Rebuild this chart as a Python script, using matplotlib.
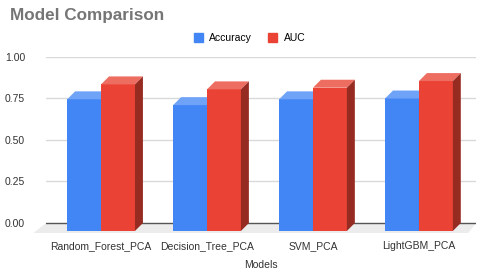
import matplotlib.pyplot as plt
from matplotlib.patches import Patch

plt.rcParams['font.family'] = ['Liberation Sans', 'DejaVu Sans']

models = ['Random_Forest_PCA', 'Decision_Tree_PCA', 'SVM_PCA', 'LightGBM_PCA']
accuracy = [0.745, 0.71, 0.745, 0.75]
auc = [0.835, 0.805, 0.815, 0.855]
yticks = [0.0, 0.25, 0.5, 0.75, 1.0]

# colours (front, top, side)
blue = ('#4285F4', '#6FA3F7', '#2F5FB3')
red = ('#EA4335', '#EE6D61', '#962B22')

w = 0.32      # bar width
dx = 0.075    # depth offset in x
dy = 0.048    # depth offset in y
floor = -0.048

fig = plt.figure(figsize=(4.8, 2.78), dpi=100)
ax = fig.add_axes([0.096, 0.162, 0.896, 0.633])
ax.set_xlim(-0.519, 3.54)
ax.set_ylim(-0.06, 1.0)

# back wall grid + floor
for t in yticks[1:]:
    ax.axhline(t, color='#d9d9d9', lw=1, zorder=0)
x0, x1 = ax.get_xlim()
ax.fill([x0, x1, x1 - dx, x0 - dx * 1.6], [0, 0, -0.06, -0.06],
        color='#ececec', lw=0, zorder=0, clip_on=False)
ax.axhline(0, color='#555555', lw=1, zorder=1)


def bar3d(xc, v, cols):
    l, r = xc - w / 2, xc + w / 2
    ax.fill([l, r, r, l], [floor, floor, v, v], color=cols[0], lw=0, zorder=2)
    ax.fill([l, r, r + dx, l + dx], [v, v, v + dy, v + dy], color=cols[1], lw=0, zorder=2)
    ax.fill([r, r + dx, r + dx, r], [floor, floor + dy, v + dy, v], color=cols[2], lw=0, zorder=2)


for i in range(len(models)):
    bar3d(i - w / 2, accuracy[i], blue)
    bar3d(i + w / 2, auc[i], red)

ax.set_yticks(yticks)
ax.set_yticklabels(['%.2f' % t for t in yticks])
ax.set_xticks(range(len(models)))
ax.set_xticklabels(models)
ax.tick_params(length=0, labelsize=7.5, colors='#333333')
ax.tick_params(axis='y', pad=15)
ax.tick_params(axis='x', pad=6)
for s in ax.spines.values():
    s.set_visible(False)
ax.set_xlabel('Models', fontsize=7.5, color='#333333', labelpad=6)

fig.text(0.021, 0.946, 'Model Comparison', fontsize=12.3, fontweight='bold',
         color='#757575', va='center')
handles = [Patch(color=blue[0], label='Accuracy'), Patch(color=red[0], label='AUC')]
fig.legend(handles=handles, loc='center', bbox_to_anchor=(0.52, 0.863), ncol=2,
           frameon=False, fontsize=7.5, handlelength=0.9, handleheight=0.9,
           handletextpad=0.6, columnspacing=1.5)

fig.savefig('out.png', dpi=100)
